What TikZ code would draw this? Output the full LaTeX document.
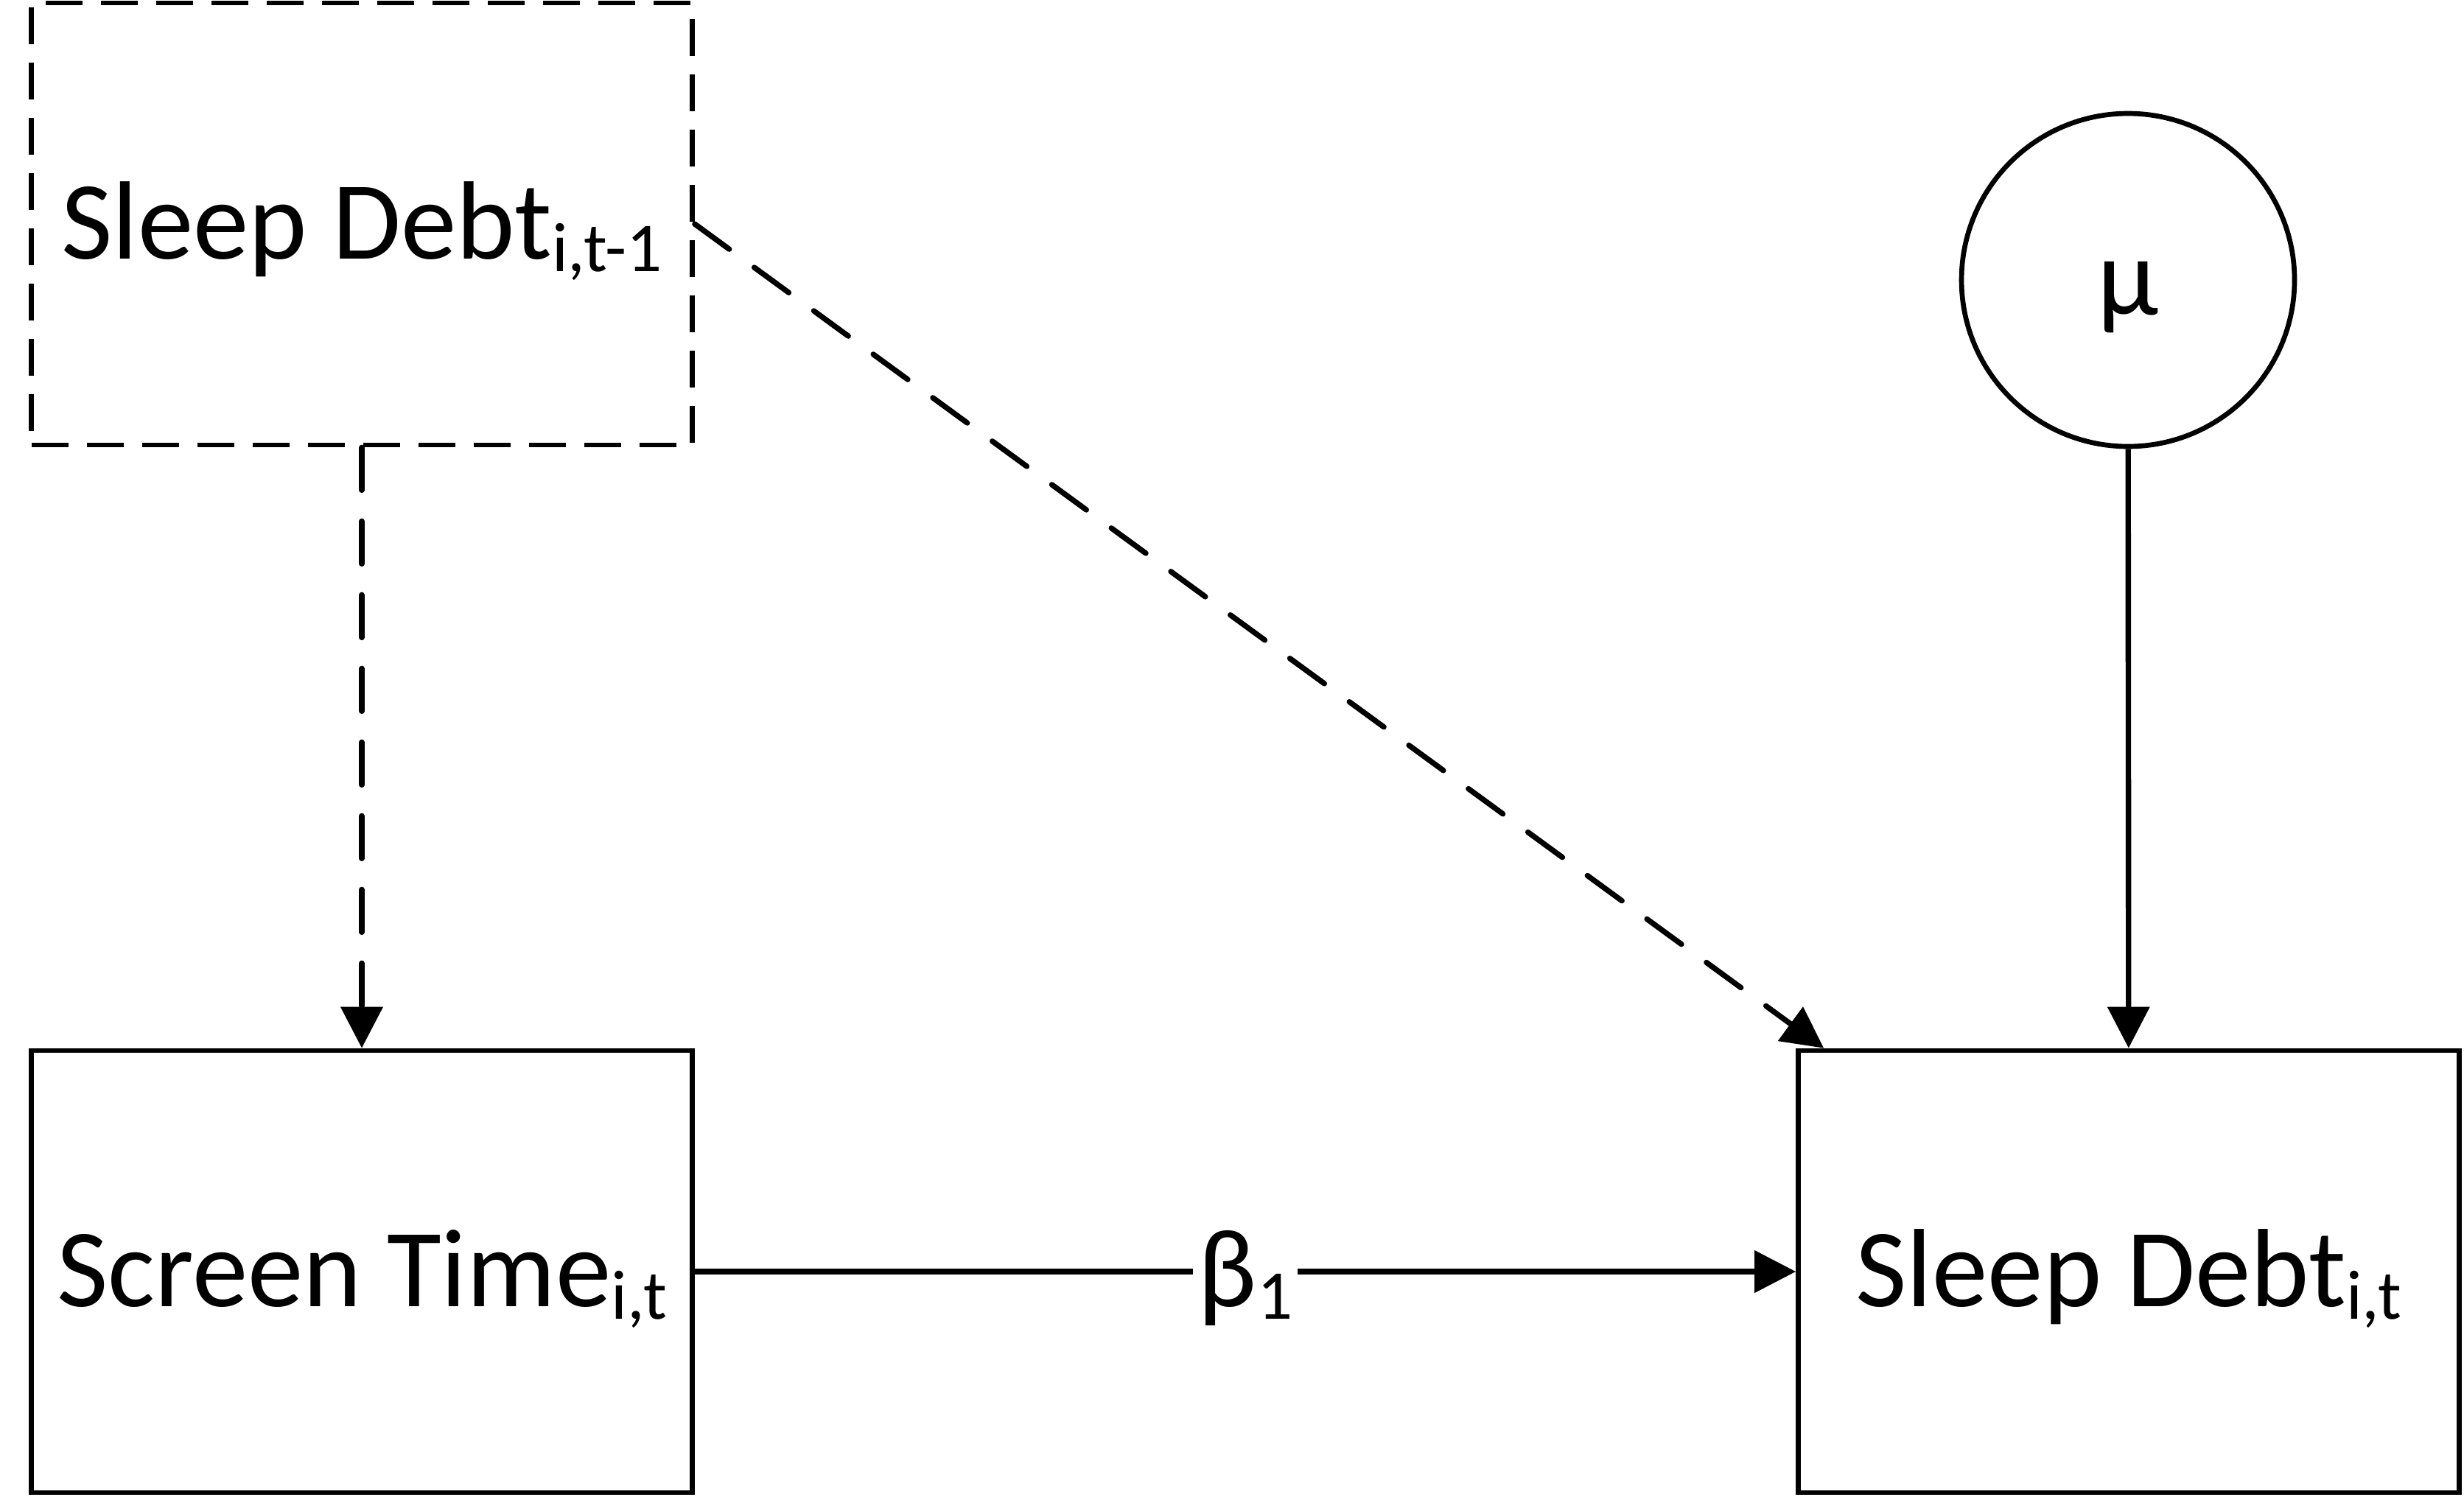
\documentclass[tikz,border=0pt]{standalone}
\usepackage{fontspec}
\setmainfont{Carlito}
\usetikzlibrary{arrows.meta}
\newcommand{\idx}[1]{\raisebox{-2.5pt}{\fontsize{13.5}{15}\selectfont #1}}

\begin{document}
\begin{tikzpicture}[every node/.style={font=\fontsize{21.5}{25}\selectfont, text height=0.62cm, text depth=0.15cm},
    var/.style={draw, rectangle, line width=0.95pt, minimum width=4.485cm, minimum height=3cm, inner sep=0pt},
    lag/.style={var, dash pattern=on 0.25cm off 0.125cm},
    mean/.style={draw, circle, line width=0.95pt, minimum size=2.26cm, inner sep=0pt},
    edge/.style={line width=1.05pt, -{Triangle[length=0.28cm, width=0.28cm]}},
    lagedge/.style={edge, line cap=round, dash pattern=on 0.29cm off 0.21cm}]

    \useasboundingbox (0,0) rectangle (16.72,-10.155);

    % Observed variables
    \node (SD0) at (2.455,-1.52)  [lag] {Sleep Debt\idx{i,t-1}};
    \node (ST)  at (2.455,-8.63)  [var] {Screen Time\idx{i,t}};
    \node (SD1) at (14.445,-8.63) [var] {Sleep Debt\idx{i,t}};

    % Mean
    \node (MU) at (14.44,-1.9) [mean] {μ};

    % Lagged paths
    \draw[lagedge] (SD0) -- (ST);
    \draw[lagedge] (SD0.east) -- (SD1);

    % Paths
    \draw[edge] (MU) -- (SD1);
    \draw[edge] (ST) -- node[fill=white, inner sep=1pt] (B1) {β\idx{1}} (SD1);

\end{tikzpicture}
\end{document}
